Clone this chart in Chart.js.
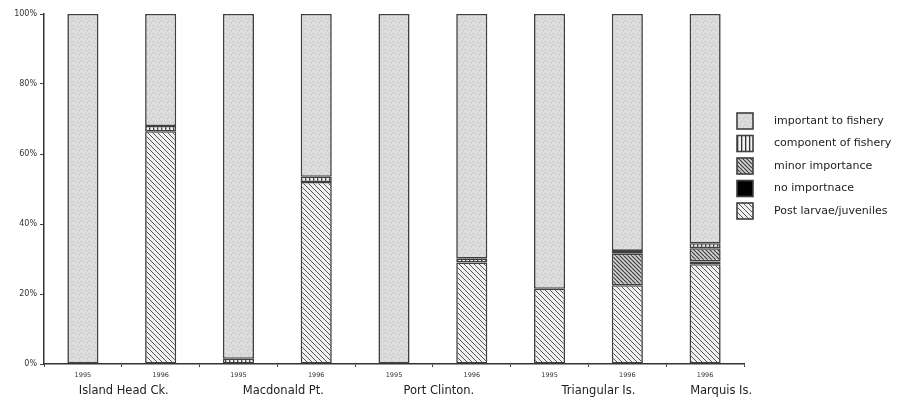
<!DOCTYPE html>
<html>
<head>
<meta charset="utf-8">
<script src="https://cdn.jsdelivr.net/npm/chart.js@4/dist/chart.umd.min.js"></script>
<style>
  html, body { margin: 0; padding: 0; background: #fff; }
  #wrap { width: 901px; height: 401px; }
</style>
</head>
<body>
<div id="wrap"><canvas id="c" width="901" height="401"></canvas></div>
<script>
// Sampling occasions (one bar each) and the sites they belong to
const yearLabels = ['1995', '1996', '1995', '1996', '1995', '1996', '1995', '1996', '1996'];
const siteNames = ['Island Head Ck.', 'Macdonald Pt.', 'Port Clinton.', 'Triangular Is.', 'Marquis Is.'];
const siteBars = [[0, 1], [2, 3], [4, 5], [6, 7], [8]];

// Percentage composition of each sample (stacked bottom to top)
const postLarvae        = [0, 66.5, 0, 52.0, 0, 29.0, 21.5, 22.5, 28.5];
const noImportance      = [0, 0, 0, 0, 0, 0, 0, 0, 0.8];
const minorImportance   = [0, 0, 0, 0, 0, 0, 0, 9.0, 3.8];
const componentFishery  = [0, 1.5, 1.5, 1.5, 0, 1.2, 0, 0.8, 1.4];
const importantFishery  = [100, 32.0, 98.5, 46.5, 100, 69.8, 78.5, 67.7, 65.5];

const yTicks = [0, 20, 40, 60, 80, 100];

const FONT = '"DejaVu Sans", "Liberation Sans", Arial, sans-serif';

function makePattern(size, paint) {
  const c = document.createElement('canvas');
  c.width = size; c.height = size;
  const g = c.getContext('2d');
  paint(g, size);
  return g.createPattern(c, 'repeat');
}

function backHatch(bg, fg, width) {
  return function (g, s) {
    g.fillStyle = bg; g.fillRect(0, 0, s, s);
    g.strokeStyle = fg; g.lineWidth = width;
    g.beginPath();
    for (const k of [-s, 0, s]) { g.moveTo(k, 0); g.lineTo(k + s, s); }
    g.stroke();
  };
}

// light stippled grey
const fillImportant = makePattern(8, (g, s) => {
  g.fillStyle = '#dadada'; g.fillRect(0, 0, s, s);
  g.fillStyle = '#c4c4c4';
  [[1, 1], [5, 2], [3, 5], [7, 6], [0, 4]].forEach(([x, y]) => g.fillRect(x, y, 1, 1));
  g.fillStyle = '#ebebeb';
  [[3, 0], [6, 4], [1, 7]].forEach(([x, y]) => g.fillRect(x, y, 1, 1));
});
// vertical rules
const fillComponent = makePattern(4, (g, s) => {
  g.fillStyle = '#f2f2f2'; g.fillRect(0, 0, s, s);
  g.fillStyle = '#333333'; g.fillRect(1, 0, 1.3, s);
});
const fillMinor = makePattern(4, backHatch('#cfcfcf', '#3a3a3a', 1.1));
const fillPost = makePattern(5, backHatch('#f0f0f0', '#555555', 1.0));

const EDGE = '#404040';

function ds(label, data, bg) {
  return {
    label, data, backgroundColor: bg,
    borderColor: EDGE, borderWidth: 1.6, borderSkipped: false,
    categoryPercentage: 1.0, barPercentage: 0.4
  };
}

const datasets = [
  ds('Post larvae/juveniles', postLarvae, fillPost),
  ds('no importnace', noImportance, '#000000'),
  ds('minor importance', minorImportance, fillMinor),
  ds('component of fishery', componentFishery, fillComponent),
  ds('important to fishery', importantFishery, fillImportant)
];

// Site names centred under their group of bars
const siteLabelPlugin = {
  id: 'siteLabels',
  afterDraw(chart) {
    const x = chart.scales.x;
    const ctx = chart.ctx;
    const nudge = [2, 6, 6, 10, 16];
    ctx.save();
    ctx.font = '11.5px ' + FONT;
    ctx.fillStyle = '#222';
    ctx.textAlign = 'center';
    ctx.textBaseline = 'middle';
    siteNames.forEach((name, i) => {
      const idx = siteBars[i];
      const cx = idx.reduce((a, j) => a + x.getPixelForValue(j), 0) / idx.length;
      ctx.fillText(name, cx + nudge[i], 391);
    });
    ctx.restore();
  }
};

// Legend column on the right, top entry = top of the stack
const sideLegendPlugin = {
  id: 'sideLegend',
  afterDraw(chart) {
    const ctx = chart.ctx;
    const items = chart.data.datasets.slice().reverse();
    const boxX = 737, boxW = 16, boxH = 16, textX = 774, top = 121, step = 22.5;
    ctx.save();
    ctx.font = '11px ' + FONT;
    ctx.textBaseline = 'middle';
    items.forEach((d, i) => {
      const cy = top + i * step;
      ctx.fillStyle = d.backgroundColor;
      ctx.fillRect(boxX, cy - boxH / 2, boxW, boxH);
      ctx.strokeStyle = EDGE;
      ctx.lineWidth = 1.6;
      ctx.strokeRect(boxX, cy - boxH / 2, boxW, boxH);
      ctx.fillStyle = '#222';
      ctx.fillText(d.label, textX, cy);
    });
    ctx.restore();
  }
};

new Chart(document.getElementById('c'), {
  type: 'bar',
  data: { labels: yearLabels, datasets },
  options: {
    responsive: false,
    animation: false,
    devicePixelRatio: 1,
    layout: { padding: { left: 0, top: 14, right: 157, bottom: 0 } },
    plugins: {
      legend: { display: false },
      tooltip: { enabled: false }
    },
    scales: {
      x: {
        stacked: true,
        afterFit(s) { s.height = 37; },
        border: { color: '#333', width: 1.5 },
        grid: { offset: true, drawOnChartArea: false, tickLength: 3, color: '#444', lineWidth: 1 },
        ticks: { font: { family: FONT, size: 6.5 }, color: '#333', padding: 4, maxRotation: 0 }
      },
      y: {
        stacked: true,
        min: 0, max: 100,
        afterFit(s) { s.width = 44; },
        afterBuildTicks(s) { s.ticks = yTicks.map(v => ({ value: v })); },
        border: { color: '#333', width: 1.5 },
        grid: { drawOnChartArea: false, tickLength: 4, color: '#444', lineWidth: 1 },
        ticks: { font: { family: FONT, size: 8 }, color: '#333', padding: 3, callback: v => v + '%' }
      }
    }
  },
  plugins: [siteLabelPlugin, sideLegendPlugin]
});
</script>
</body>
</html>
